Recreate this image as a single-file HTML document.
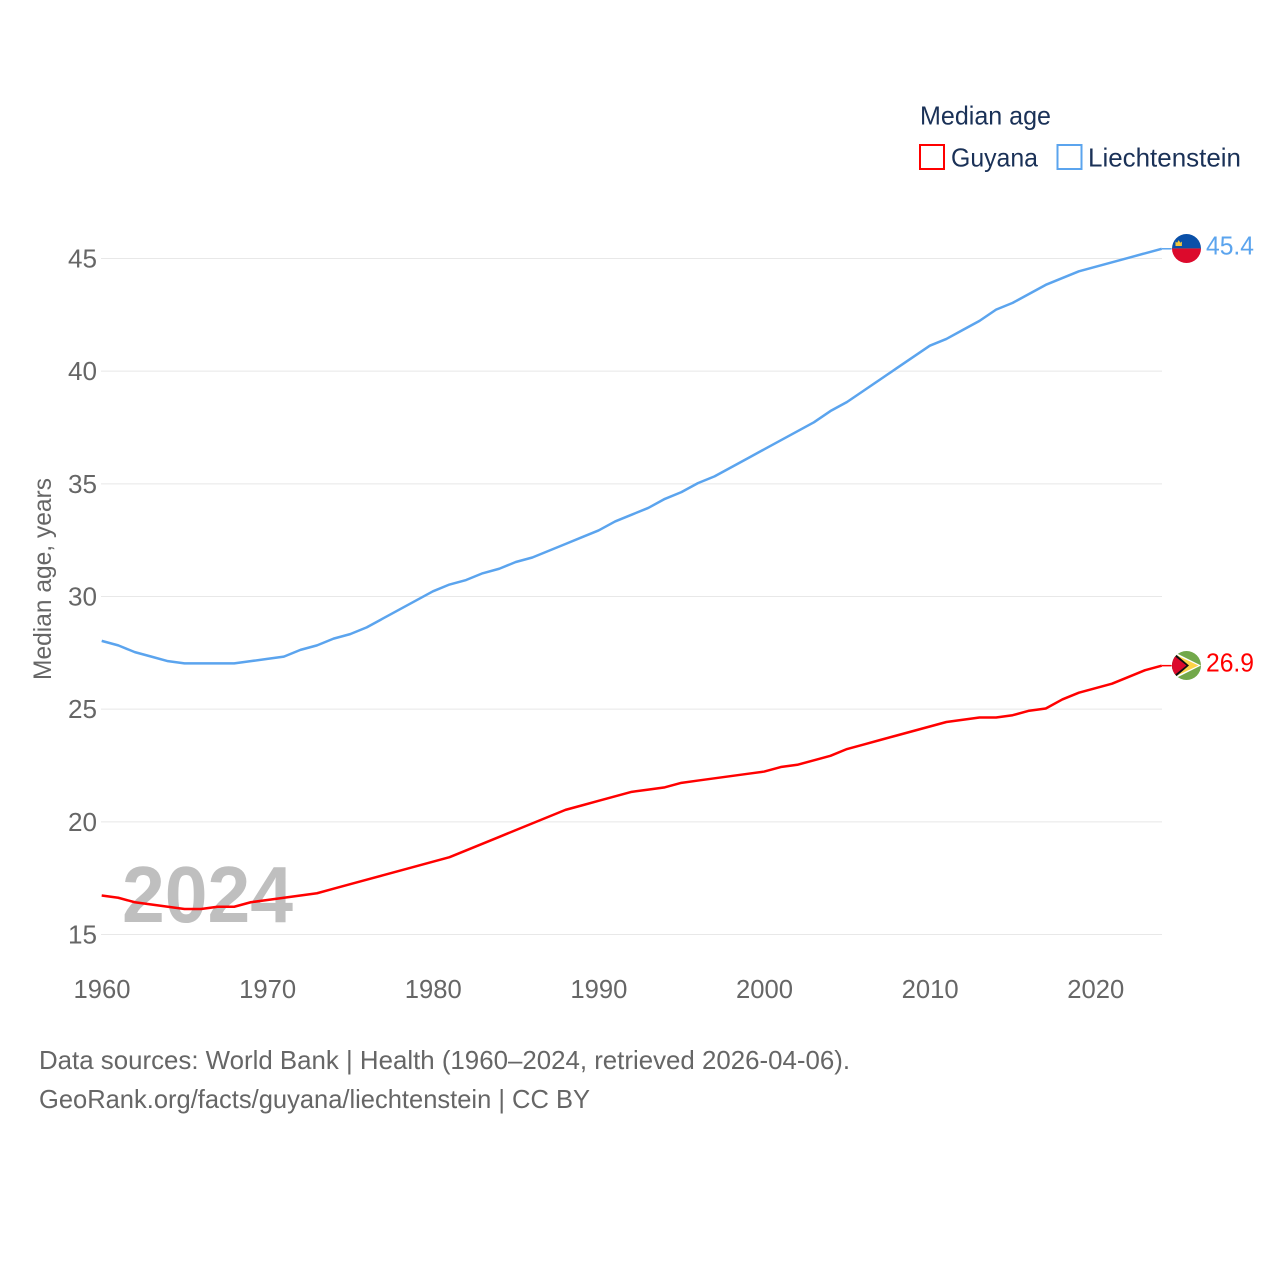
<!DOCTYPE html>
<html lang="en">
<head>
<meta charset="utf-8">
<title>Median age: Guyana and Liechtenstein</title>
<style>
html,body{margin:0;padding:0;background:#fff;}
svg{display:block;font-family:"Liberation Sans",sans-serif;}
</style>
</head>
<body>
<svg id="chart" xmlns="http://www.w3.org/2000/svg" width="1280" height="1280" viewBox="0 0 1280 1280">
  <rect x="0" y="0" width="1280" height="1280" fill="#fff"/>
  <g id="grid"></g>
  <g id="yticks"></g>
  <g id="xticks"></g>
  <text x="122" y="922" font-size="80" font-weight="700" fill="#bfbfbf" textLength="171" lengthAdjust="spacingAndGlyphs">2024</text>
  <text transform="translate(51,579) rotate(-90)" text-anchor="middle" font-size="25" fill="#666" textLength="202" lengthAdjust="spacingAndGlyphs">Median age, years</text>
  <g id="series" transform="translate(-0.3,-0.7)"></g>

  <g>
    <text x="920" y="124.5" font-size="26" fill="#1a3157" textLength="131" lengthAdjust="spacingAndGlyphs">Median age</text>
    <rect x="920" y="145" width="24" height="24" fill="#fff" stroke="#ff0000" stroke-width="2"/>
    <text x="951" y="166.5" font-size="26" fill="#1a3157" textLength="87" lengthAdjust="spacingAndGlyphs">Guyana</text>
    <rect x="1057.5" y="145" width="24" height="24" fill="#fff" stroke="#5ba4ee" stroke-width="2"/>
    <text x="1088" y="166.5" font-size="26" fill="#1a3157" textLength="153" lengthAdjust="spacingAndGlyphs">Liechtenstein</text>
  </g>

  <defs>
    <clipPath id="clip-li"><circle cx="1186.5" cy="248.5" r="14.5"/></clipPath>
    <clipPath id="clip-gy"><circle cx="1186.5" cy="665.5" r="14.5"/></clipPath>
  </defs>
  <g clip-path="url(#clip-li)">
    <rect x="1172" y="234" width="29" height="15" fill="#0a50a8"/>
    <rect x="1172" y="249" width="29" height="15" fill="#dc0a2c"/>
    <rect x="1172" y="248" width="29" height="1" fill="#8a3a60"/>
    <path d="M1175.5 246 v-4.5 l1.6 1.2 l1.6 -2.6 l1.6 2.6 l1.6 -1.2 v4.5 z" fill="#f2c73c"/>
  </g>
  <g clip-path="url(#clip-gy)">
    <rect x="1172" y="651" width="29" height="29" fill="#72a84a"/>
    <path d="M1172 651 L1201 665.5 L1172 680 Z" fill="#fff"/>
    <path d="M1172 653 L1198.5 665.5 L1172 678 Z" fill="#fcd448"/>
    <path d="M1172 651 L1189 665.5 L1172 680 Z" fill="#111"/>
    <path d="M1172 654 L1186.5 665.5 L1172 677 Z" fill="#dc0a2c"/>
  </g>
  <text id="label-li" x="1206" y="254.5" font-size="26" fill="#5ba4ee" textLength="48" lengthAdjust="spacingAndGlyphs"></text>
  <text id="label-gy" x="1206" y="671.5" font-size="26" fill="#ff0000" textLength="48" lengthAdjust="spacingAndGlyphs"></text>

  <g>
    <text x="39" y="1069" font-size="26" fill="#666" textLength="811" lengthAdjust="spacingAndGlyphs">Data sources: World Bank | Health (1960–2024, retrieved 2026-04-06).</text>
    <text x="39" y="1108" font-size="26" fill="#666" textLength="551" lengthAdjust="spacingAndGlyphs">GeoRank.org/facts/guyana/liechtenstein | CC BY</text>
  </g>
</svg>
<script>
const startYear = 1960;
const yTicks = [15, 20, 25, 30, 35, 40, 45];
const xTicks = [1960, 1970, 1980, 1990, 2000, 2010, 2020];
const guyana = [16.7,16.6,16.4,16.3,16.2,16.1,16.1,16.2,16.2,16.4,16.5,16.6,16.7,16.8,17.0,17.2,17.4,17.6,17.8,18.0,18.2,18.4,18.7,19.0,19.3,19.6,19.9,20.2,20.5,20.7,20.9,21.1,21.3,21.4,21.5,21.7,21.8,21.9,22.0,22.1,22.2,22.4,22.5,22.7,22.9,23.2,23.4,23.6,23.8,24.0,24.2,24.4,24.5,24.6,24.6,24.7,24.9,25.0,25.4,25.7,25.9,26.1,26.4,26.7,26.9];
const liechtenstein = [28.0,27.8,27.5,27.3,27.1,27.0,27.0,27.0,27.0,27.1,27.2,27.3,27.6,27.8,28.1,28.3,28.6,29.0,29.4,29.8,30.2,30.5,30.7,31.0,31.2,31.5,31.7,32.0,32.3,32.6,32.9,33.3,33.6,33.9,34.3,34.6,35.0,35.3,35.7,36.1,36.5,36.9,37.3,37.7,38.2,38.6,39.1,39.6,40.1,40.6,41.1,41.4,41.8,42.2,42.7,43.0,43.4,43.8,44.1,44.4,44.6,44.8,45.0,45.2,45.4];

const NS = 'http://www.w3.org/2000/svg';
function xScale(year) { return 102 + (year - 1960) * (1162 - 102) / 64; }
function yScale(v) { return 934.5 - (v - 15) * (934.5 - 258.5) / 30; }

const grid = document.getElementById('grid');
const yG = document.getElementById('yticks');
const xG = document.getElementById('xticks');
const seriesG = document.getElementById('series');

yTicks.forEach(function (t) {
  const line = document.createElementNS(NS, 'line');
  
  
  line.setAttribute('x1', 101);
  line.setAttribute('x2', 1162);
  line.setAttribute('y1', yScale(t));
  line.setAttribute('y2', yScale(t));
  line.setAttribute('stroke', '#e8e8e8');
  line.setAttribute('stroke-width', 1);
  grid.appendChild(line);

  const label = document.createElementNS(NS, 'text');
  
  
  label.setAttribute('x', 97);
  label.setAttribute('y', yScale(t) + 9);
  label.setAttribute('text-anchor', 'end');
  label.setAttribute('font-size', 26);
  label.setAttribute('fill', '#666');
  label.setAttribute('textLength', 29);
  label.setAttribute('lengthAdjust', 'spacingAndGlyphs');
  label.textContent = t;
  yG.appendChild(label);
});

xTicks.forEach(function (t) {
  const label = document.createElementNS(NS, 'text');
  
  
  label.setAttribute('x', xScale(t));
  label.setAttribute('y', 998);
  label.setAttribute('text-anchor', 'middle');
  label.setAttribute('font-size', 26);
  label.setAttribute('fill', '#666');
  label.setAttribute('textLength', 57);
  label.setAttribute('lengthAdjust', 'spacingAndGlyphs');
  label.textContent = t;
  xG.appendChild(label);
});

function drawSeries(values, color, name) {
  const pts = values.map(function (v, i) {
    return xScale(startYear + i).toFixed(2) + ',' + yScale(v).toFixed(2);
  });
  const path = document.createElementNS(NS, 'polyline');
  
  
  path.setAttribute('points', pts.join(' '));
  path.setAttribute('fill', 'none');
  path.setAttribute('stroke', color);
  path.setAttribute('stroke-width', 2.5);
  path.setAttribute('stroke-linejoin', 'round');
  seriesG.appendChild(path);

  const last = values[values.length - 1];
  const stub = document.createElementNS(NS, 'line');
  
  
  stub.setAttribute('x1', xScale(startYear + values.length - 1));
  stub.setAttribute('x2', 1172);
  stub.setAttribute('y1', yScale(last));
  stub.setAttribute('y2', yScale(last));
  stub.setAttribute('stroke', color);
  stub.setAttribute('stroke-width', 1.5);
  seriesG.appendChild(stub);
}
drawSeries(liechtenstein, '#5ba4ee', 'liechtenstein');
drawSeries(guyana, '#ff0000', 'guyana');

document.getElementById('label-li').textContent = liechtenstein[liechtenstein.length - 1].toFixed(1);
document.getElementById('label-gy').textContent = guyana[guyana.length - 1].toFixed(1);
</script>
</body>
</html>
